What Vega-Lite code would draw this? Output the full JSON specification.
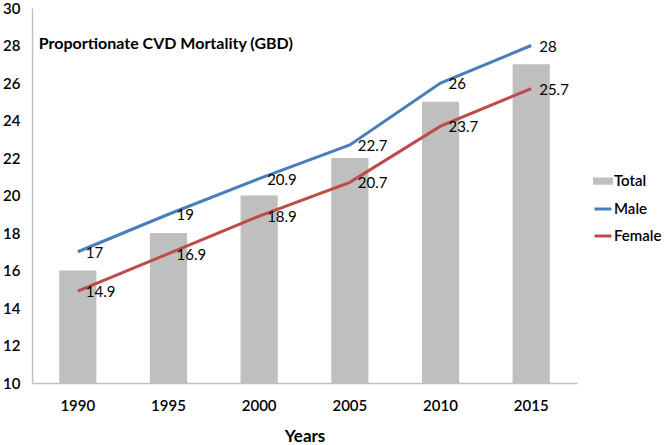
{
  "$schema": "https://vega.github.io/schema/vega-lite/v6.json",
  "width": 545,
  "height": 375,
  "autosize": {"type": "none"},
  "padding": {"left": 32, "top": 8, "right": 89, "bottom": 62},
  "background": "white",
  "config": {
    "view": {"stroke": null},
    "font": "Lato",
    "axis": {"grid": false, "ticks": false, "domainColor": "#bfbfbf", "domainWidth": 1.5, "labelColor": "#000", "labelFont": "Lato", "labelFontSize": 15, "labelFontWeight": 600, "titleColor": "#000"}
  },
  "data": {
    "values": [
      {"year": "1990", "series": "Total", "value": 16},
      {"year": "1995", "series": "Total", "value": 18},
      {"year": "2000", "series": "Total", "value": 20},
      {"year": "2005", "series": "Total", "value": 22},
      {"year": "2010", "series": "Total", "value": 25},
      {"year": "2015", "series": "Total", "value": 27},
      {"year": "1990", "series": "Male", "value": 17},
      {"year": "1995", "series": "Male", "value": 19},
      {"year": "2000", "series": "Male", "value": 20.9},
      {"year": "2005", "series": "Male", "value": 22.7},
      {"year": "2010", "series": "Male", "value": 26},
      {"year": "2015", "series": "Male", "value": 28},
      {"year": "1990", "series": "Female", "value": 14.9},
      {"year": "1995", "series": "Female", "value": 16.9},
      {"year": "2000", "series": "Female", "value": 18.9},
      {"year": "2005", "series": "Female", "value": 20.7},
      {"year": "2010", "series": "Female", "value": 23.7},
      {"year": "2015", "series": "Female", "value": 25.7}
    ]
  },
  "encoding": {
    "x": {
      "field": "year", "type": "ordinal",
      "scale": {"paddingInner": 0.59, "paddingOuter": 0.3},
      "axis": {"title": "Years", "labelAngle": 0, "labelPadding": 15, "titleFontSize": 17, "titleFontWeight": "bold", "titlePadding": 15}
    },
    "y": {
      "field": "value", "type": "quantitative",
      "scale": {"domain": [10, 30], "zero": false, "nice": false},
      "axis": {"title": null, "values": [10, 12, 14, 16, 18, 20, 22, 24, 26, 28, 30], "labelPadding": 12}
    }
  },
  "layer": [
    {
      "transform": [{"filter": "datum.series == 'Total'"}],
      "mark": {"type": "bar", "clip": true},
      "encoding": {
        "color": {
          "field": "series", "type": "nominal",
          "scale": {"domain": ["Total", "Male", "Female"], "range": ["#bfbfbf", "#4a7ebb", "#be4b48"]},
          "legend": {
            "title": null, "orient": "none", "legendX": 561, "legendY": 163,
            "labelFontSize": 15, "labelFontWeight": 600, "labelColor": "#000", "labelOffset": 1,
            "rowPadding": 9, "symbolSize": 289,
            "encode": {
              "symbols": {
                "update": {
                  "shape": {"signal": "datum.value == 'Total' ? 'M-1,-0.25H1V0.25H-1Z' : 'stroke'"},
                  "fill": {"signal": "datum.value == 'Total' ? '#bfbfbf' : 'transparent'"},
                  "stroke": {"signal": "datum.value == 'Total' ? 'transparent' : (datum.value == 'Male' ? '#4a7ebb' : '#be4b48')"},
                  "strokeWidth": {"value": 3},
                  "opacity": {"value": 1},
                  "fillOpacity": {"value": 1}
                }
              }
            }
          }
        }
      }
    },
    {
      "transform": [{"filter": "datum.series != 'Total'"}],
      "mark": {"type": "line", "strokeWidth": 3},
      "encoding": {
        "color": {"field": "series", "type": "nominal"}
      }
    },
    {
      "transform": [{"filter": "datum.series != 'Total'"}],
      "mark": {"type": "text", "align": "left", "baseline": "middle", "dx": 8, "dy": 1, "fontSize": 15, "color": "#000"},
      "encoding": {
        "text": {"field": "value", "type": "quantitative"}
      }
    },
    {
      "data": {"values": [{"label": "Proportionate CVD Mortality (GBD)", "year": "1990", "value": 28}]},
      "mark": {"type": "text", "align": "left", "baseline": "middle", "dx": -39, "dy": -2, "fontSize": 16, "fontWeight": "bold", "color": "#000"},
      "encoding": {
        "text": {"field": "label", "type": "nominal"}
      }
    }
  ]
}
